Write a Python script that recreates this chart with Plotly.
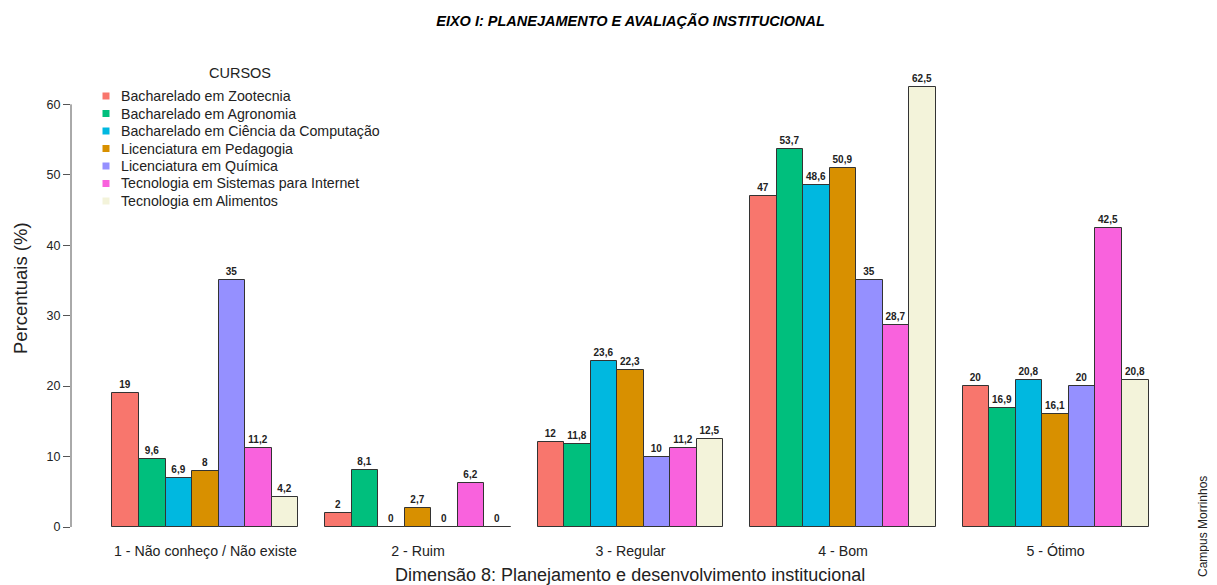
import plotly.graph_objects as go

categories = ["1 - Não conheço / Não existe", "2 - Ruim", "3 - Regular", "4 - Bom", "5 - Ótimo"]
cursos = [
    "Bacharelado em Zootecnia",
    "Bacharelado em Agronomia",
    "Bacharelado em Ciência da Computação",
    "Licenciatura em Pedagogia",
    "Licenciatura em Química",
    "Tecnologia em Sistemas para Internet",
    "Tecnologia em Alimentos",
]
zootecnia = [19, 2, 12, 47, 20]
agronomia = [9.6, 8.1, 11.8, 53.7, 16.9]
computacao = [6.9, 0, 23.6, 48.6, 20.8]
pedagogia = [8, 2.7, 22.3, 50.9, 16.1]
quimica = [35, 0, 10, 35, 20]
internet = [11.2, 6.2, 11.2, 28.7, 42.5]
alimentos = [4.2, 0, 12.5, 62.5, 20.8]
series = [zootecnia, agronomia, computacao, pedagogia, quimica, internet, alimentos]
colors = ["#F8766D", "#00BF7D", "#00B8E0", "#D89000", "#9590FF", "#F962DD", "#F3F3DA"]
y_ticks = [0, 10, 20, 30, 40, 50, 60]

n_series = len(series)
group_w = n_series + 1

# layout geometry (page has an 8px body margin)
OFF = 8
W, H = 1217 - 2 * OFF, 585 - OFF
L, T = 63, 40
R = W - (1190 - OFF)
B = H - (527 - OFF)
PW, PH = W - L - R, H - T - B


def fmt(v):
    if float(v).is_integer():
        return str(int(v))
    return str(v).replace(".", ",")


def px_x(px):
    return (px - OFF - L) / PW


def px_y(py):
    return (H - B - (py - OFF)) / PH


fig = go.Figure()
for j, (name, vals, col) in enumerate(zip(cursos, series, colors)):
    xs = [1 + g * group_w + j + 0.5 for g in range(len(categories))]
    fig.add_trace(go.Bar(
        x=xs, y=vals, width=1, name=name, showlegend=False,
        marker=dict(color=col, line=dict(color="#333333", width=1)),
        text=[fmt(v) for v in vals], textposition="outside",
        textfont=dict(size=10, color="#222222", family="Liberation Sans", weight="bold"),
        cliponaxis=False,
    ))

centers = [1 + g * group_w + n_series / 2 for g in range(len(categories))]
span = len(categories) * group_w - 1
x_lo = 1 - 0.04 * span
x_hi = len(categories) * group_w + 0.04 * span

fig.update_layout(
    width=W, height=H,
    paper_bgcolor="white", plot_bgcolor="white",
    font=dict(family="Liberation Sans", color="#222222"),
    margin=dict(l=L, r=R, t=T, b=B, autoexpand=False),
    barmode="overlay",
    bargap=0,
    uniformtext=dict(minsize=10, mode="show"),
    title=dict(text="<b><i>EIXO I: PLANEJAMENTO E AVALIAÇÃO INSTITUCIONAL</i></b>",
               x=0.5, xref="paper", xanchor="center", y=1 - 13 / H, yanchor="middle",
               font=dict(size=14.5, color="#000000")),
    xaxis=dict(range=[x_lo, x_hi], tickmode="array", tickvals=centers, ticktext=categories,
               showline=False, showgrid=False, zeroline=False, automargin=False,
               ticks="outside", ticklen=11, tickcolor="rgba(0,0,0,0)",
               tickfont=dict(size=14.2, color="#222222")),
    yaxis=dict(range=[0, 68], tickmode="array", tickvals=y_ticks,
               showline=False, showgrid=False, zeroline=False, automargin=False,
               ticks="outside", ticklen=7, tickcolor="#555555",
               tickfont=dict(size=12.5, color="#222222")),
    showlegend=False,
    separators=",.",
)

fig.add_shape(type="line", xref="paper", yref="y", x0=0, x1=0, y0=0, y1=60,
              line=dict(color="#555555", width=1))

# axis titles
fig.add_annotation(text="Dimensão 8: Planejamento e desenvolvimento institucional",
                   xref="paper", yref="paper", x=px_x(630), y=px_y(575),
                   xanchor="center", yanchor="middle", showarrow=False,
                   font=dict(size=18, color="#222222"))
fig.add_annotation(text="Percentuais (%)", xref="paper", yref="paper",
                   x=px_x(20), y=px_y(288), xanchor="center", yanchor="middle",
                   showarrow=False, textangle=-90,
                   font=dict(size=18.5, color="#222222"))

# legend drawn as shapes + annotations
fig.add_annotation(text="CURSOS", xref="paper", yref="paper", x=px_x(240), y=px_y(73),
                   xanchor="center", yanchor="middle", showarrow=False,
                   font=dict(size=14.5, color="#222222"))
for i, (name, col) in enumerate(zip(cursos, colors)):
    cy = 96 + i * 17.5
    fig.add_shape(type="rect", xref="paper", yref="paper",
                  x0=px_x(102.5), x1=px_x(109.5), y0=px_y(cy - 3.5), y1=px_y(cy + 3.5),
                  fillcolor=col, line=dict(width=0))
    fig.add_annotation(text=name, xref="paper", yref="paper", x=px_x(119), y=px_y(cy),
                       xanchor="left", yanchor="middle", showarrow=False,
                       font=dict(size=14.2, color="#222222"))

fig.add_annotation(text="Campus Morrinhos", xref="paper", yref="paper",
                   x=px_x(1203), y=px_y(527), xanchor="center", yanchor="middle",
                   showarrow=False, textangle=-90,
                   font=dict(size=12, color="#222222"))

fig.write_html("out.html")
